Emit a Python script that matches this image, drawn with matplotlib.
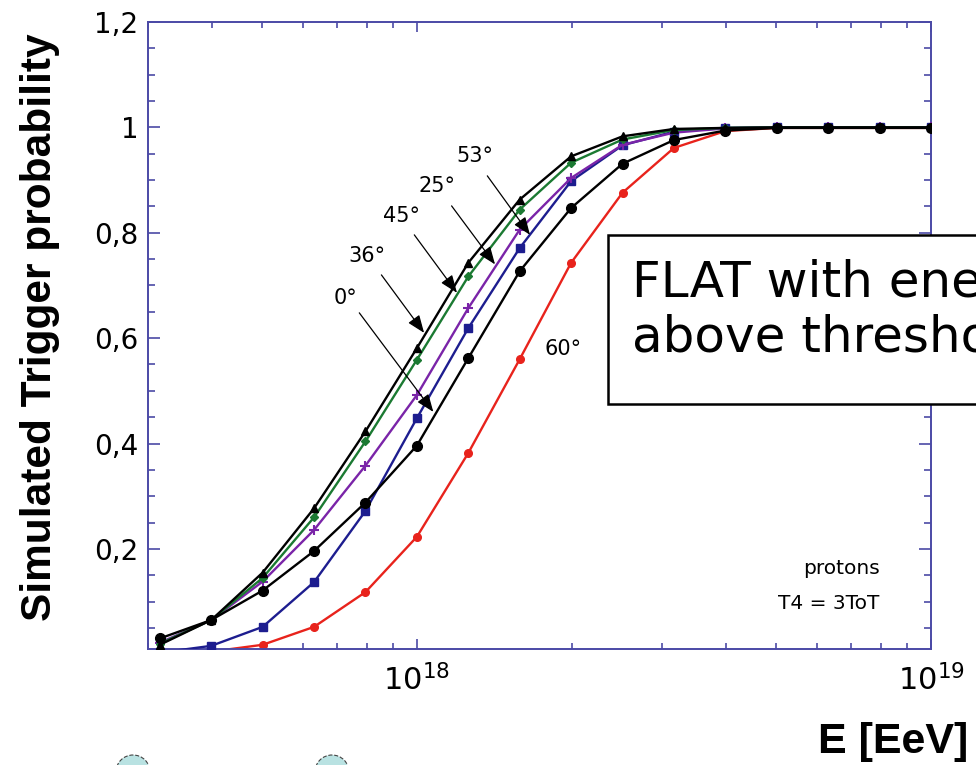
import numpy as np
import matplotlib
matplotlib.use('Agg')
import matplotlib.pyplot as plt
from matplotlib.patches import Rectangle, Ellipse
from matplotlib.ticker import FixedLocator, FixedFormatter, LogLocator, NullFormatter, LogFormatterMathtext

# ---------------- data ----------------
log_energy = [17.5, 17.6, 17.7, 17.8, 17.9, 18.0, 18.1, 18.2,
              18.3, 18.4, 18.5, 18.6, 18.7, 18.8, 18.9, 19.0]

p_60 = [0.001, 0.005, 0.018, 0.052, 0.118, 0.223, 0.382, 0.560,
        0.743, 0.876, 0.961, 0.993, 0.999, 0.999, 0.999, 0.999]
p_53 = [0.003, 0.016, 0.052, 0.137, 0.272, 0.448, 0.619, 0.771,
        0.898, 0.966, 0.992, 0.999, 1.000, 1.000, 1.000, 1.000]
p_25 = [0.022, 0.065, 0.138, 0.236, 0.358, 0.492, 0.657, 0.806,
        0.904, 0.967, 0.990, 0.998, 1.000, 1.000, 1.000, 1.000]
p_45 = [0.020, 0.065, 0.145, 0.260, 0.404, 0.559, 0.717, 0.844,
        0.933, 0.977, 0.995, 0.999, 1.000, 1.000, 1.000, 1.000]
p_36 = [0.018, 0.065, 0.155, 0.277, 0.423, 0.581, 0.743, 0.863,
        0.945, 0.983, 0.997, 0.999, 1.000, 1.000, 1.000, 1.000]
p_0 = [0.030, 0.065, 0.121, 0.196, 0.288, 0.396, 0.562, 0.727,
       0.847, 0.931, 0.976, 0.994, 0.999, 0.999, 0.999, 0.999]

y_ticks = [0.2, 0.4, 0.6, 0.8, 1.0, 1.2]
y_tick_labels = ['0,2', '0,4', '0,6', '0,8', '1', '1,2']

# angle annotations: label, text (log10 E, p), arrow tail, arrow head
ann_labels = ['0°', '36°', '45°', '25°', '53°']
ann_text_logE = [17.862, 17.903, 17.970, 18.040, 18.112]
ann_text_p = [0.677, 0.755, 0.832, 0.888, 0.945]
ann_tail_logE = [17.888, 17.931, 17.995, 18.0675, 18.137]
ann_tail_p = [0.648, 0.720, 0.796, 0.851, 0.908]
ann_head_logE = [18.032, 18.014, 18.078, 18.152, 18.220]
ann_head_p = [0.460, 0.610, 0.686, 0.740, 0.796]

# ---------------- figure ----------------
fig = plt.figure(figsize=(9.76, 7.65), dpi=100)
ax = fig.add_axes([148/976, 1-649/765, (931-148)/976, (649-22)/765])

E = [10**v for v in log_energy]
spine_c = '#4b4aa6'

ax.plot(E, p_60, color='#e8231c', lw=1.7, marker='o', ms=5.5, zorder=2)
ax.plot(E, p_53, color='#1d1d8f', lw=1.7, marker='s', ms=6, zorder=3)
ax.plot(E, p_25, color='#7a24a8', lw=1.7, marker='+', ms=7, mew=1.5, zorder=4)
ax.plot(E, p_45, color='#1b7a32', lw=1.7, marker='D', ms=4, zorder=5)
ax.plot(E, p_36, color='black', lw=1.7, marker='^', ms=6, zorder=6)
ax.plot(E, p_0, color='black', lw=1.7, marker='o', ms=7, zorder=7)

ax.set_xscale('log')
ax.set_xlim(10**17.477, 1e19)
ax.set_ylim(0.01, 1.2)

ax.yaxis.set_major_locator(FixedLocator(y_ticks))
ax.yaxis.set_major_formatter(FixedFormatter(y_tick_labels))
ax.yaxis.set_minor_locator(FixedLocator([0.05*i for i in range(1, 24)]))
ax.xaxis.set_major_locator(LogLocator(base=10, numticks=10))
ax.xaxis.set_major_formatter(LogFormatterMathtext())
ax.xaxis.set_minor_locator(LogLocator(base=10, subs=np.arange(2, 10), numticks=20))
ax.xaxis.set_minor_formatter(NullFormatter())

for s in ax.spines.values():
    s.set_color(spine_c)
    s.set_linewidth(1.4)

ax.tick_params(axis='y', which='major', direction='in', length=8.6, width=1.2,
               color=spine_c, left=True, right=True, labelsize=20, pad=7)
ax.tick_params(axis='y', which='minor', direction='in', length=5, width=1.2,
               color=spine_c, left=True, right=True)
ax.tick_params(axis='x', which='major', direction='in', length=7.2, width=1.2,
               color=spine_c, bottom=True, top=True, labelsize=22, pad=11)
ax.tick_params(axis='x', which='minor', direction='in', length=4.5, width=1.2,
               color=spine_c, bottom=True, top=True)

for lab, tx, ty, sx, sy, hx, hy in zip(ann_labels, ann_text_logE, ann_text_p,
                                       ann_tail_logE, ann_tail_p,
                                       ann_head_logE, ann_head_p):
    ax.text(10**tx, ty, lab, fontsize=15, ha='center', va='center', zorder=10)
    ax.annotate('', xy=(10**hx, hy), xytext=(10**sx, sy),
                arrowprops=dict(arrowstyle='-|>,head_length=0.9,head_width=0.35',
                                lw=0.9, color='black', shrinkA=0, shrinkB=0,
                                mutation_scale=12), zorder=10)

ax.text(10**18.285, 0.580, '60°', fontsize=15, ha='center', va='center')
ax.text(10**18.900, 0.163, 'protons', fontsize=14.5, ha='right', va='center')
ax.text(10**18.900, 0.097, 'T4 = 3ToT', fontsize=14.5, ha='right', va='center')

# axis labels
fig.text(40/976, 1-327/765, 'Simulated Trigger probability', rotation=90,
         ha='center', va='center', fontsize=30.5, fontweight='bold',
         family='Liberation Sans')
fig.text(968/976, 1-753/765, 'E [EeV]', ha='right', va='baseline',
         fontsize=31, fontweight='bold', family='Liberation Sans')

# text box (extends beyond the right edge, as in the original slide)
rect = Rectangle((608/976, 1-404/765), 0.45, (404-235)/765, transform=fig.transFigure,
                 facecolor='white', edgecolor='black', lw=1.8, zorder=20)
fig.patches.append(rect)
fig.text(632/976, 1-297/765, 'FLAT with energy', fontsize=36, ha='left',
         va='baseline', zorder=21)
fig.text(632/976, 1-352/765, 'above threshold', fontsize=36, ha='left',
         va='baseline', zorder=21)

# decorative circles at bottom
for cx in [133, 332]:
    circ = Ellipse((cx/976, 1-772/765), 34/976, 34/765, transform=fig.transFigure,
                   facecolor='#b9e2e2', edgecolor='#444444', lw=0.8, ls='--', zorder=20)
    fig.patches.append(circ)

fig.savefig('out.png', dpi=100)
